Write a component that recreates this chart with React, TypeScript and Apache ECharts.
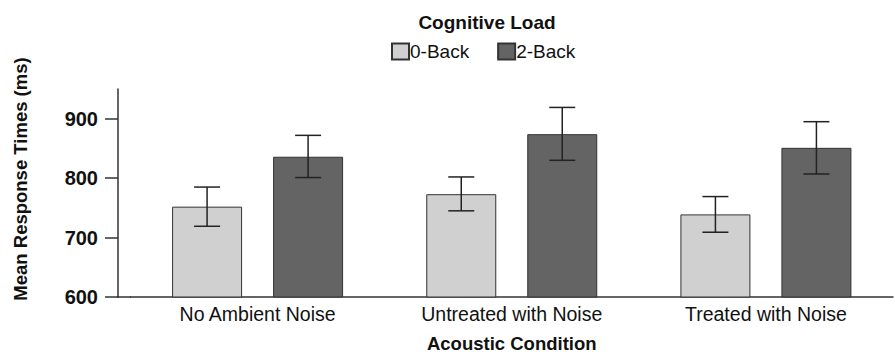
import React, { useEffect, useRef } from "react";
import * as echarts from "echarts";

const categories = ["No Ambient Noise", "Untreated with Noise", "Treated with Noise"];
const seriesNames = ["0-Back", "2-Back"];
const means0Back = [752, 773, 739];
const means2Back = [836, 874, 851];
const errLow0Back = [719, 745, 709];
const errHigh0Back = [785, 802, 769];
const errLow2Back = [801, 830, 807];
const errHigh2Back = [872, 919, 895];
const yTicks = [600, 700, 800, 900];

const BAR_W = 70;
const BAR_GAP = 31;
const CAP_W = 26;
const FONT = "'Liberation Sans', Arial, Helvetica, sans-serif";

export default function App() {
  const ref = useRef<HTMLDivElement>(null);
  useEffect(() => {
    if (!ref.current) return;
    const chart = echarts.init(ref.current, undefined, { renderer: "svg" });
    const makeErr = (lows: number[], highs: number[], sign: number) => ({
      type: "custom",
      silent: true,
      z: 5,
      data: lows.map((l, i) => [i, l, highs[i]]),
      renderItem: (params: any, api: any) => {
        const idx = api.value(0);
        const lo = api.coord([idx, api.value(1)]);
        const hi = api.coord([idx, api.value(2)]);
        const x = lo[0] + sign * (BAR_W / 2 + BAR_GAP / 2);
        const st = { stroke: "#222", lineWidth: 1.5 };
        return {
          type: "group",
          children: [
            { type: "line", shape: { x1: x, y1: lo[1], x2: x, y2: hi[1] }, style: st },
            { type: "line", shape: { x1: x - CAP_W / 2, y1: hi[1], x2: x + CAP_W / 2, y2: hi[1] }, style: st },
            { type: "line", shape: { x1: x - CAP_W / 2, y1: lo[1], x2: x + CAP_W / 2, y2: lo[1] }, style: st },
          ],
        };
      },
    });
    chart.setOption({
      animation: false,
      backgroundColor: "#fff",
      textStyle: { fontFamily: FONT },
      title: {
        text: "Cognitive Load",
        left: 482,
        top: 8,
        textAlign: "center",
        textStyle: { fontFamily: FONT, fontWeight: "bold", fontSize: 19, color: "#111" },
      },
      legend: {
        data: seriesNames,
        left: 386,
        top: 37,
        itemWidth: 17,
        itemHeight: 16,
        itemGap: 28,
        icon: "rect",
        textStyle: { fontFamily: FONT, fontSize: 19, color: "#111", padding: [0, 0, 0, -4] },
      },
      grid: { left: 130.5, right: 2, top: 89, bottom: 58, outerBoundsMode: "none", containLabel: false },
      xAxis: {
        type: "category",
        data: categories,
        name: "Acoustic Condition",
        nameLocation: "middle",
        nameGap: 37,
        nameTextStyle: { fontFamily: FONT, fontWeight: "bold", fontSize: 18.5, color: "#111" },
        axisLine: { lineStyle: { color: "#333", width: 1.5 } },
        axisTick: { show: false },
        axisLabel: { margin: 7, fontFamily: FONT, fontSize: 19.5, color: "#111" },
      },
      yAxis: {
        type: "value",
        min: 600,
        max: 950,
        interval: 100,
        offset: 12.5,
        splitLine: { show: false },
        axisLine: { show: true, lineStyle: { color: "#333", width: 1.5 } },
        axisTick: { show: true, length: 13, customValues: yTicks, lineStyle: { color: "#333", width: 1.5 } },
        axisLabel: {
          margin: 20,
          customValues: yTicks,
          fontFamily: FONT,
          fontWeight: "bold",
          fontSize: 20,
          color: "#111",
        },
      },
      graphic: [
        {
          type: "text",
          x: 20,
          y: 179,
          rotation: Math.PI / 2,
          style: {
            text: "Mean Response Times (ms)",
            fontFamily: FONT,
            fontWeight: "bold",
            fontSize: 18.5,
            fill: "#111",
            textAlign: "center",
            textVerticalAlign: "middle",
          },
        },
        {
          type: "line",
          shape: { x1: 117, y1: 297, x2: 131, y2: 297 },
          style: { stroke: "#333", lineWidth: 1.5 },
        },
      ],
      series: [
        {
          name: seriesNames[0],
          type: "bar",
          data: means0Back,
          barWidth: BAR_W,
          barGap: (BAR_GAP / BAR_W) * 100 + "%",
          itemStyle: { color: "#d0d0d0", borderColor: "#333", borderWidth: 1 },
        },
        {
          name: seriesNames[1],
          type: "bar",
          data: means2Back,
          barWidth: BAR_W,
          barGap: (BAR_GAP / BAR_W) * 100 + "%",
          itemStyle: { color: "#646464", borderColor: "#333", borderWidth: 1 },
        },
        makeErr(errLow0Back, errHigh0Back, -1),
        makeErr(errLow2Back, errHigh2Back, 1),
      ],
    });
    return () => chart.dispose();
  }, []);
  return <div ref={ref} style={{ width: 895, height: 355, position: "absolute", left: 0, top: 0 }} />;
}
